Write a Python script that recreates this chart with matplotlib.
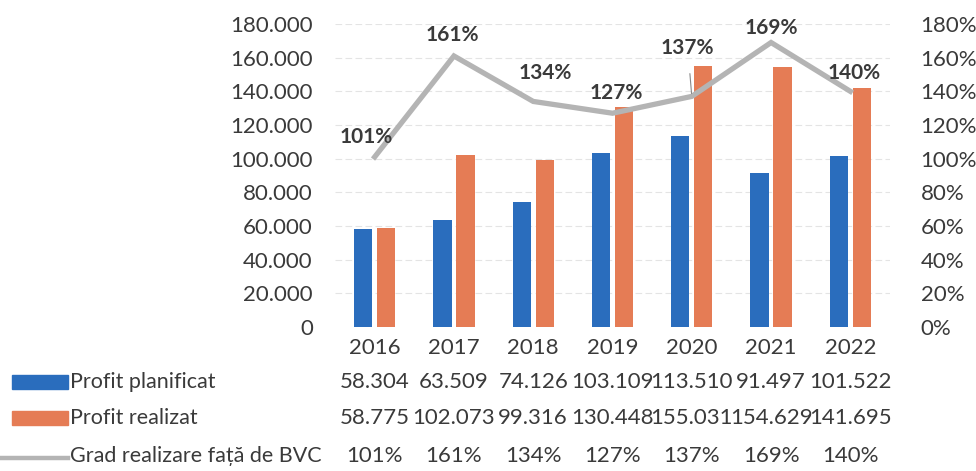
import matplotlib
matplotlib.use("Agg")
import matplotlib.pyplot as plt
from matplotlib.transforms import blended_transform_factory
from matplotlib.patches import Rectangle
from matplotlib.lines import Line2D
import numpy as np

plt.rcParams['font.family'] = ['Lato', 'DejaVu Sans']

years = ['2016', '2017', '2018', '2019', '2020', '2021', '2022']
planificat = [58304, 63509, 74126, 103109, 113510, 91497, 101522]
realizat = [58775, 102073, 99316, 130448, 155031, 154629, 141695]
grad = [101, 161, 134, 127, 137, 169, 140]
left_ticks = [0, 20000, 40000, 60000, 80000, 100000, 120000, 140000, 160000, 180000]
right_ticks = [0, 20, 40, 60, 80, 100, 120, 140, 160, 180]
row_labels = ['Profit planificat', 'Profit realizat', 'Grad realizare față de BVC']

BLUE = '#2a6dbd'
ORANGE = '#e57c55'
GRAY = '#b4b4b4'
TXT = '#3a3a3a'

W, H = 976, 471
fig = plt.figure(figsize=(W/100, H/100), dpi=100)
ax = fig.add_axes([335/W, 1-327/H, (890-335)/W, (327-24)/H])
ax2 = ax.twinx()

x = np.arange(len(years))
bw = 0.23
gap = 0.06
ax.bar(x - (bw+gap)/2, planificat, bw, color=BLUE, zorder=2)
ax.bar(x + (bw+gap)/2, realizat, bw, color=ORANGE, zorder=2)
ax.set_xlim(-0.5, len(years)-0.5)
ax.set_ylim(0, 180000)
ax.set_yticks(left_ticks)
ax.set_yticklabels([f"{v:,}".replace(',', '.') for v in left_ticks], fontsize=16, color=TXT)
ax.tick_params(axis='y', length=0, pad=16)
ax.set_xticks([])
for v in left_ticks[1:]:
    ax.axhline(v, color='#e4e4e4', lw=0.8, ls=(0, (6, 3)), zorder=0)
for s in ax.spines.values():
    s.set_visible(False)

gv = [g/100 for g in grad]
ax2.plot(x, gv, color=GRAY, lw=3.8, zorder=3, solid_joinstyle='miter')
ax2.set_ylim(0, 1.8)
ax2.set_yticks([t/100 for t in right_ticks])
ax2.set_yticklabels([f"{t}%" for t in right_ticks], fontsize=16, color=TXT)
ax2.tick_params(axis='y', length=0, pad=22)
for s in ax2.spines.values():
    s.set_visible(False)

offsets = [(-8, 20), (-2, 21), (12, 28), (4, 20), (-4, 48), (0, 15), (4, 18)]
for i, (g, v) in enumerate(zip(grad, gv)):
    dx, dy = offsets[i]
    kw = {}
    if i == 4:
        kw['arrowprops'] = dict(arrowstyle='-', color='#888888', lw=0.8, shrinkA=9, shrinkB=2)
    ax2.annotate(f"{g}%", (x[i], v), xytext=(dx, dy), textcoords='offset pixels',
                 ha='center', va='center', fontsize=15, fontweight='bold', color=TXT, zorder=5, **kw)

# data table
tr = blended_transform_factory(ax.transData, fig.transFigure)
yrow = [1-348/H, 1-382/H, 1-418/H, 1-456/H]
for i, yr in enumerate(years):
    ax.text(x[i], yrow[0], yr, transform=tr, ha='center', va='center', fontsize=16, color=TXT, clip_on=False)
    ax.text(x[i], yrow[1], f"{planificat[i]:,}".replace(',', '.'), transform=tr, ha='center', va='center',
            fontsize=16, color=TXT, clip_on=False)
    ax.text(x[i], yrow[2], f"{realizat[i]:,}".replace(',', '.'), transform=tr, ha='center', va='center',
            fontsize=16, color=TXT, clip_on=False)
    ax.text(x[i], yrow[3], f"{grad[i]}%", transform=tr, ha='center', va='center', fontsize=16, color=TXT, clip_on=False)

for j, lab in enumerate(row_labels):
    fig.text(70/W, yrow[j+1], lab, ha='left', va='center', fontsize=15.5, color=TXT)

fig.patches.append(Rectangle((12/W, 1-389/H), 56/W, 14/H, transform=fig.transFigure, color=BLUE))
fig.patches.append(Rectangle((12/W, 1-425/H), 56/W, 14/H, transform=fig.transFigure, color=ORANGE))
fig.lines.append(Line2D([0/W, 68/W], [yrow[3]-2/H, yrow[3]-2/H], transform=fig.transFigure, color=GRAY, lw=3.2))

fig.savefig('out.png', dpi=100)
